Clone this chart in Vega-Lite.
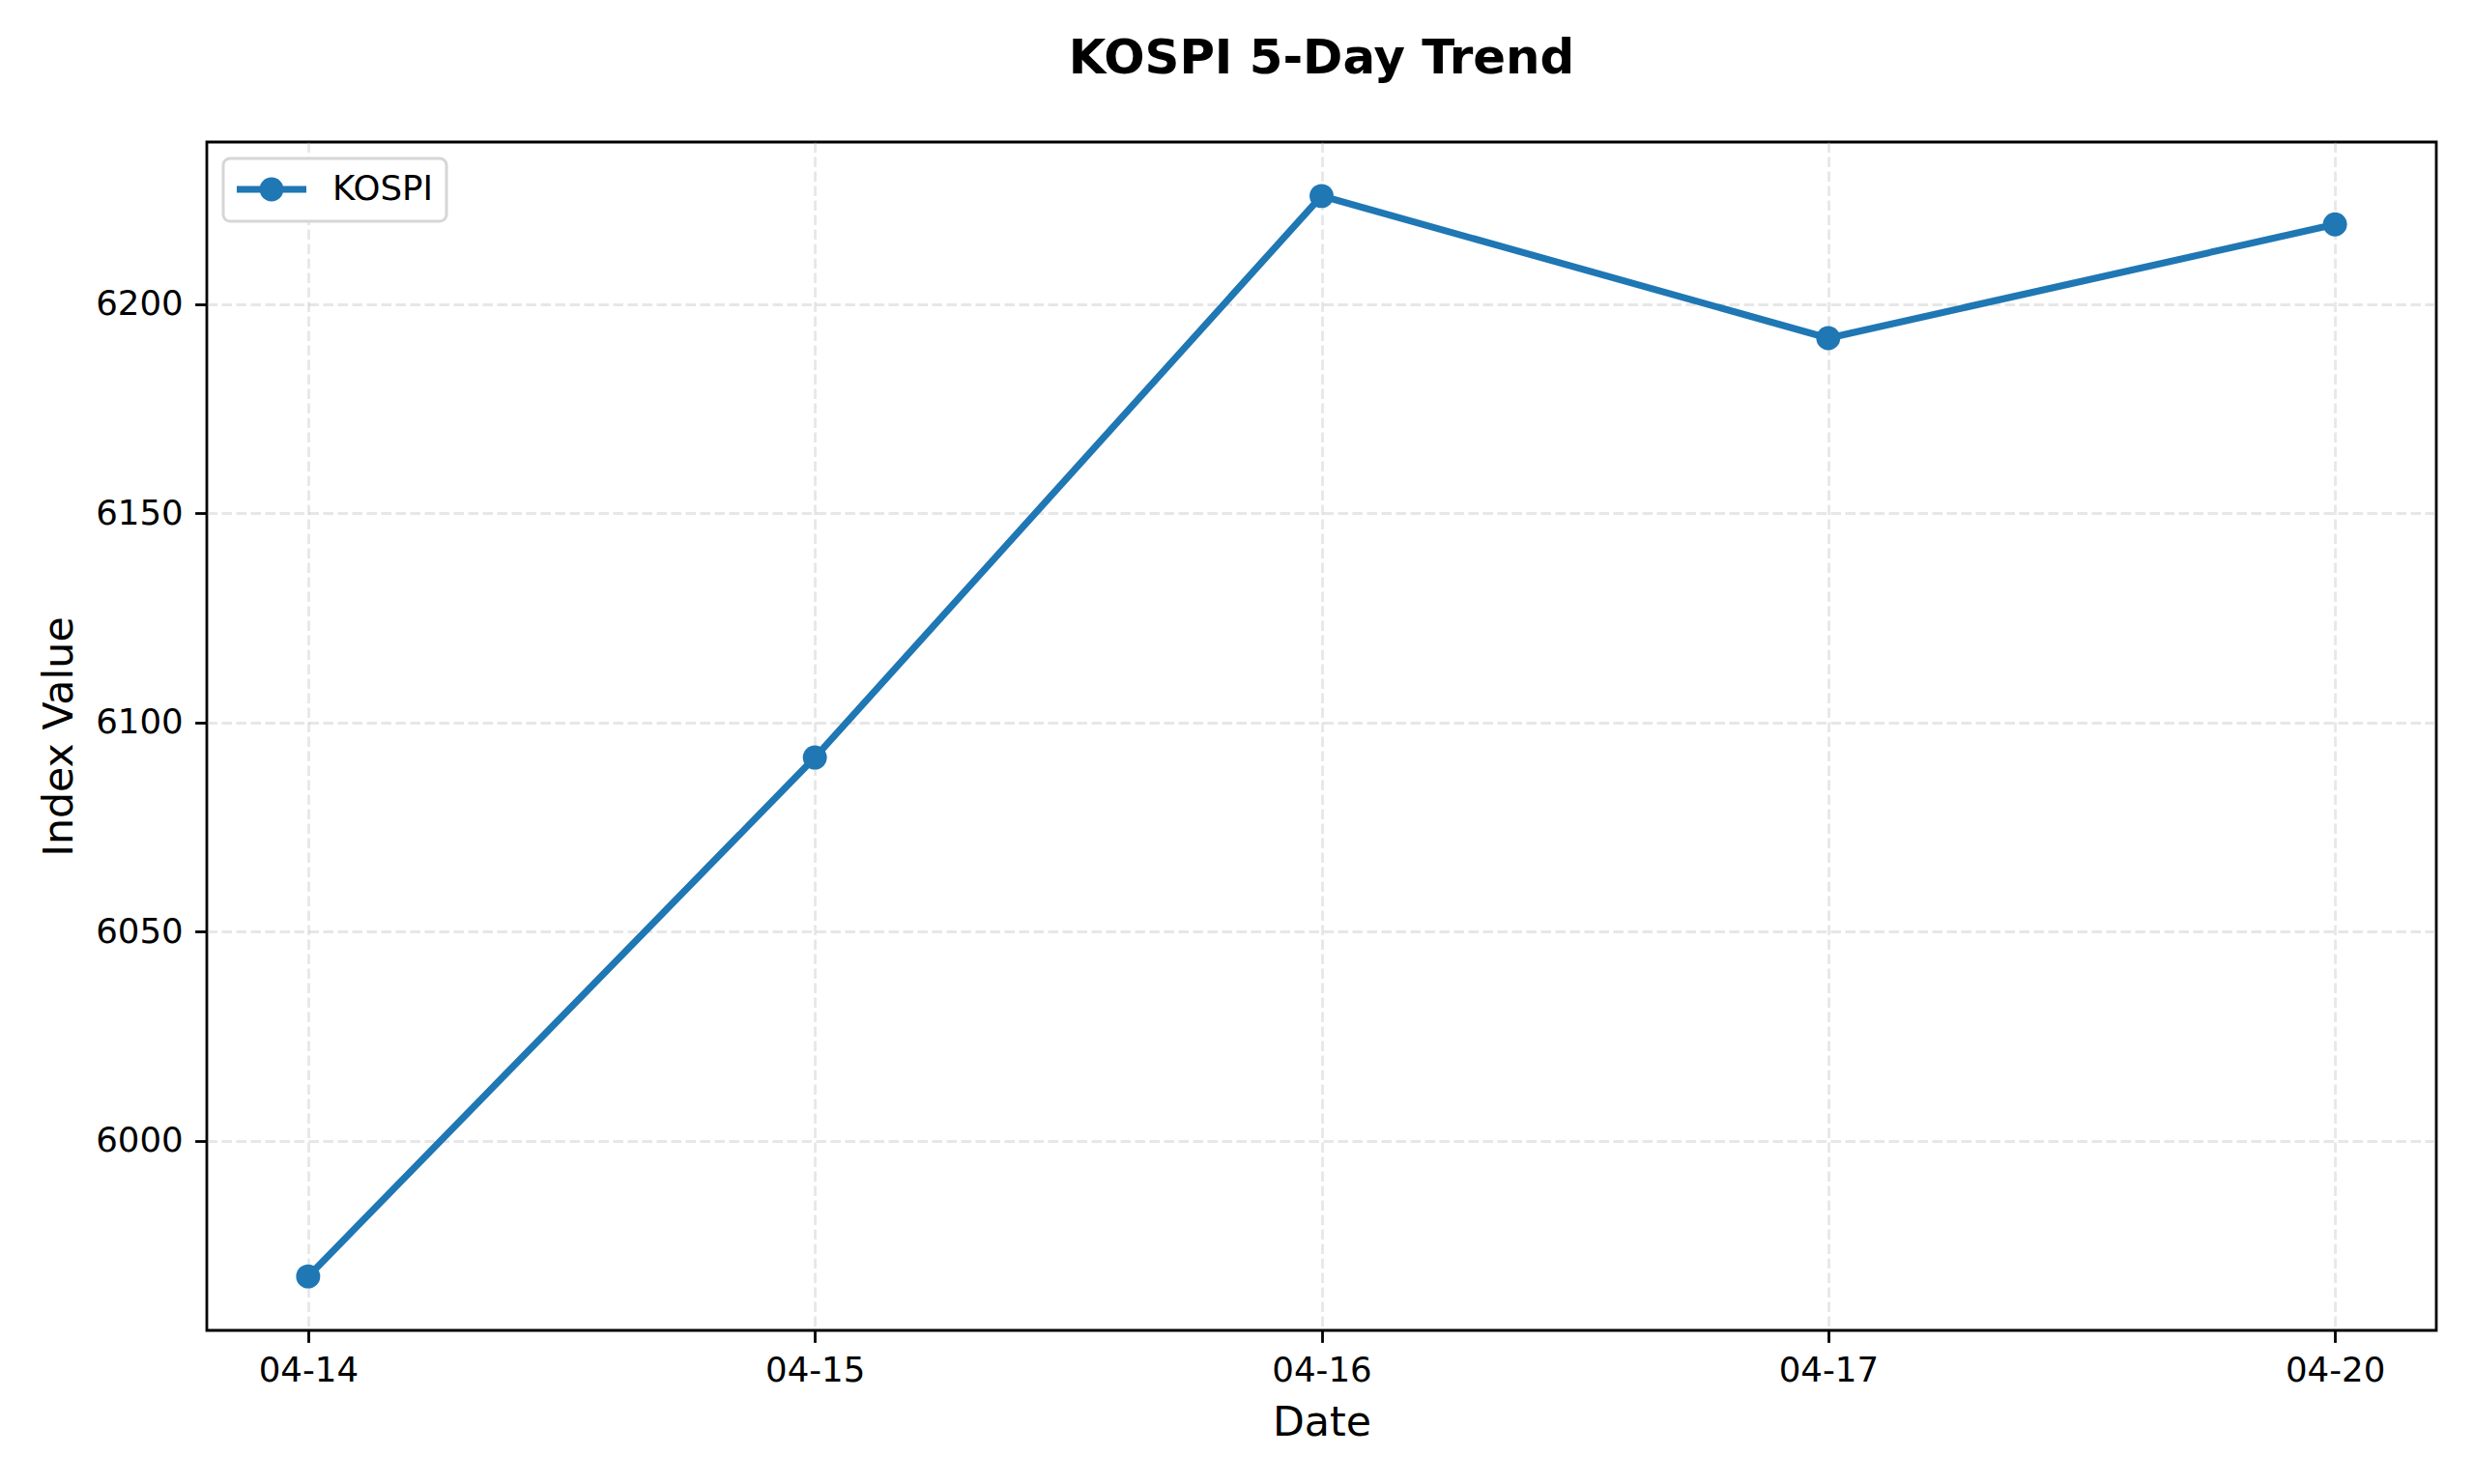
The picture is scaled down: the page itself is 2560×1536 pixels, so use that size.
{
  "$schema": "https://vega.github.io/schema/vega-lite/v6.json",
  "autosize": "none",
  "width": 2307,
  "height": 1230,
  "padding": {"left": 214, "top": 147, "right": 39, "bottom": 159},
  "background": "white",
  "title": {
    "text": "KOSPI 5-Day Trend",
    "font": "DejaVu Sans",
    "fontSize": 49.8,
    "fontWeight": "bold",
    "color": "#000000",
    "anchor": "middle",
    "baseline": "alphabetic",
    "offset": 21
  },
  "data": {
    "values": [
      {"date": "04-14", "value": 5967.5, "series": "KOSPI"},
      {"date": "04-15", "value": 6091.6, "series": "KOSPI"},
      {"date": "04-16", "value": 6225.9, "series": "KOSPI"},
      {"date": "04-17", "value": 6191.9, "series": "KOSPI"},
      {"date": "04-20", "value": 6219.1, "series": "KOSPI"}
    ]
  },
  "encoding": {
    "x": {
      "field": "date",
      "type": "ordinal",
      "sort": null,
      "scale": {"type": "point", "padding": 0.2},
      "axis": {"title": "Date", "labelAngle": 0, "titlePadding": 14}
    },
    "y": {
      "field": "value",
      "type": "quantitative",
      "scale": {"domain": [5954.6, 6238.8], "nice": false, "zero": false},
      "axis": {"title": "Index Value", "values": [6000, 6050, 6100, 6150, 6200], "format": "d", "titlePadding": 15}
    },
    "color": {
      "field": "series",
      "type": "nominal",
      "scale": {"domain": ["KOSPI"], "range": ["#1f77b4"]},
      "legend": {
        "title": null,
        "orient": "top-left",
        "offset": 17,
        "padding": 14,
        "fillColor": "white",
        "strokeColor": "#d6d6d6",
        "cornerRadius": 7,
        "labelFont": "DejaVu Sans",
        "labelFontSize": 35.6,
        "labelColor": "#000000",
        "labelOffset": 63,
        "symbolType": "M-1,-0.2L3,-0.2L3,0.2L-1,0.2Z M1.69,0A0.69,0.69,0,1,1,0.31,0A0.69,0.69,0,1,1,1.69,0Z",
        "symbolSize": 1296,
        "symbolFillColor": "#1f77b4",
        "symbolStrokeWidth": 0,
        "symbolOpacity": 1,
        "encode": {"legend": {"update": {"strokeWidth": {"value": 3}}}}
      }
    }
  },
  "layer": [
    {"mark": {"type": "line", "strokeWidth": 7.1}},
    {"mark": {"type": "point", "filled": true, "shape": "circle", "size": 620, "opacity": 1}}
  ],
  "config": {
    "view": {"stroke": "#000000", "strokeWidth": 2.8},
    "axis": {
      "domain": false,
      "grid": true,
      "gridColor": "#b0b0b0",
      "gridOpacity": 0.3,
      "gridWidth": 2.8,
      "gridDash": [10.5, 4.5],
      "ticks": true,
      "tickColor": "#000000",
      "tickSize": 12.4,
      "tickWidth": 2.8,
      "labelPadding": 12.4,
      "labelFont": "DejaVu Sans",
      "labelFontSize": 35.6,
      "labelColor": "#000000",
      "titleFont": "DejaVu Sans",
      "titleFontSize": 42.7,
      "titleFontWeight": "normal",
      "titleColor": "#000000"
    }
  }
}
